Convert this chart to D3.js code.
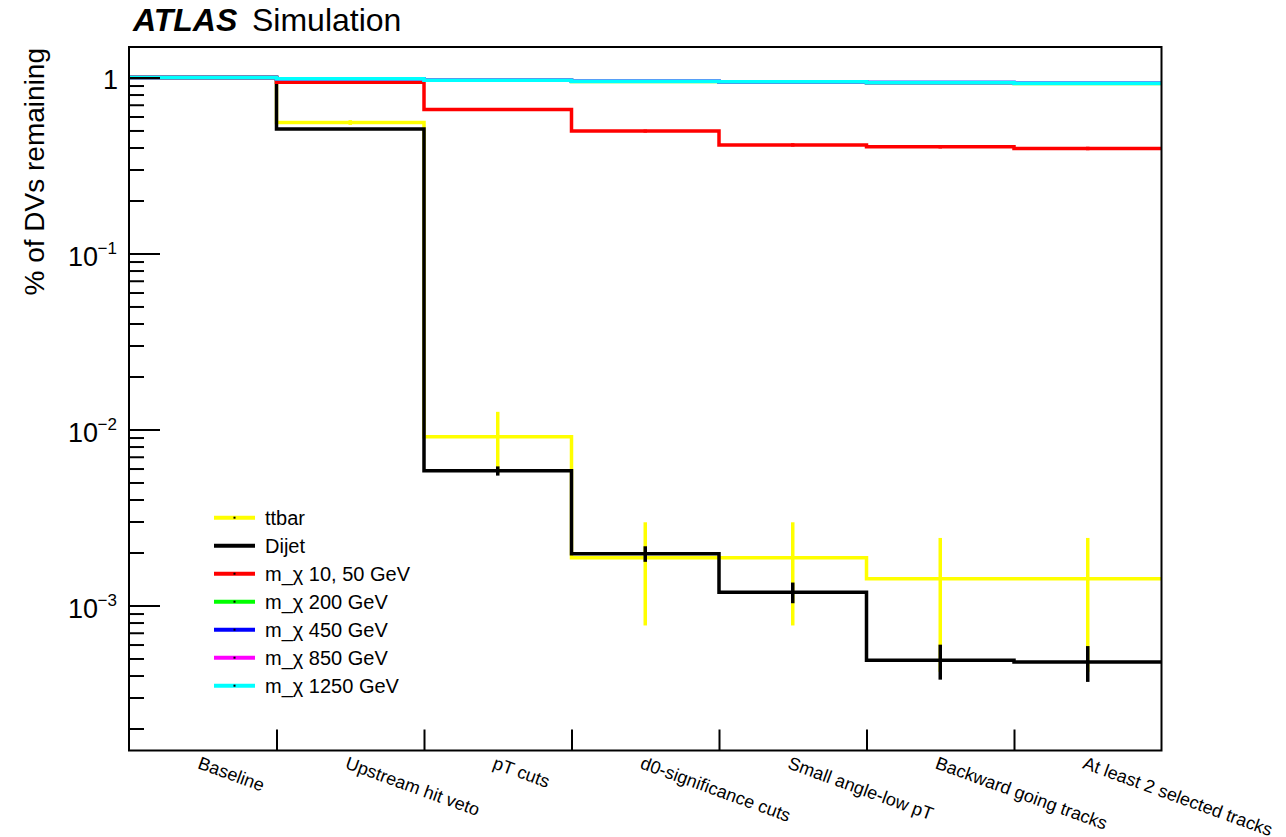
<!DOCTYPE html>
<html lang="en">
<head>
    <meta charset="UTF-8">
    <title>ATLAS Simulation - DV cutflow</title>
    <script src="https://d3js.org/d3.v7.min.js"></script>
    <style>
        body {
            margin: 0;
            background-color: #ffffff;
            font-family: 'Liberation Sans', Arial, Helvetica, sans-serif;
        }
        svg text {
            fill: #000;
        }
    </style>
</head>
<body>
    <div id="chart"></div>
    <script>
        // Cutflow steps (x categories)
        const categories = [
            "Baseline", "Upstream hit veto", "pT cuts", "d0-significance cuts",
            "Small angle-low pT", "Backward going tracks", "At least 2 selected tracks"
        ];

        // Fraction of DVs remaining per step
        const ttbarValues  = [1, 0.555, 0.0091, 0.00187, 0.00187, 0.00142, 0.00142];
        const ttbarErrors  = [0.02, 0.017, 0.0035, 0.0011, 0.0011, 0.001, 0.001];
        const dijetValues  = [1, 0.51, 0.00582, 0.00197, 0.00119, 0.000489, 0.000478];
        const dijetErrors  = [0.002, 0.004, 0.00035, 0.0002, 0.00016, 0.00011, 0.00011];
        const mchi10Values = [1, 0.94, 0.658, 0.496, 0.414, 0.404, 0.395];
        const mchi10Errors = [0.006, 0.01, 0.012, 0.01, 0.009, 0.009, 0.009];
        const mchi200Values  = [1, 0.985, 0.964, 0.95, 0.943, 0.933, 0.924];
        const mchi450Values  = [1, 0.985, 0.965, 0.952, 0.946, 0.937, 0.928];
        const mchi850Values  = [1, 0.985, 0.965, 0.952, 0.946, 0.937, 0.928];
        const mchi1250Values = [1, 0.985, 0.965, 0.952, 0.946, 0.937, 0.928];
        const signalErrors   = [0.004, 0.006, 0.006, 0.006, 0.006, 0.006, 0.006];

        const seriesNames  = ["ttbar", "Dijet", "m_χ 10, 50 GeV", "m_χ 200 GeV", "m_χ 450 GeV", "m_χ 850 GeV", "m_χ 1250 GeV"];
        const seriesColors = ["#ffff00", "#000000", "#ff0000", "#00ff00", "#0000ff", "#ff00ff", "#00ffff"];

        // Log axis ticks
        const yMajorTicks = [1e-3, 1e-2, 1e-1, 1];
        const yTickLabels = [["10", "\u22123"], ["10", "\u22122"], ["10", "\u22121"], ["1", ""]];

        const series = [
            { name: seriesNames[0], color: seriesColors[0], values: ttbarValues, errors: ttbarErrors, marker: true },
            { name: seriesNames[1], color: seriesColors[1], values: dijetValues, errors: dijetErrors, marker: false },
            { name: seriesNames[2], color: seriesColors[2], values: mchi10Values, errors: mchi10Errors, marker: true },
            { name: seriesNames[3], color: seriesColors[3], values: mchi200Values, errors: signalErrors, marker: true },
            { name: seriesNames[4], color: seriesColors[4], values: mchi450Values, errors: signalErrors, marker: true },
            { name: seriesNames[5], color: seriesColors[5], values: mchi850Values, errors: signalErrors, marker: true },
            { name: seriesNames[6], color: seriesColors[6], values: mchi1250Values, errors: signalErrors, marker: true }
        ];

        const W = 1286, H = 837;
        const frame = { left: 129, right: 1161.5, top: 47, bottom: 750.5 };

        const svg = d3.select("#chart").append("svg")
            .attr("width", W)
            .attr("height", H);

        const nBins = categories.length;
        const xScale = d3.scaleLinear().domain([0, nBins]).range([frame.left, frame.right]);
        const xBand = d3.scaleBand().domain(categories).range([frame.left, frame.right]);
        const yScale = d3.scaleLog().domain([1.5e-4, 1.49]).range([frame.bottom, frame.top]);

        // Histograms (step lines)
        const step = d3.line()
            .x(d => xScale(d[0]))
            .y(d => yScale(d[1]))
            .curve(d3.curveStepAfter);

        const plot = svg.append("g");
        series.forEach(s => {
            const pts = s.values.map((v, i) => [i, v]);
            pts.push([nBins, s.values[nBins - 1]]);
            plot.append("path")
                .attr("d", step(pts))
                .attr("fill", "none")
                .attr("stroke", s.color)
                .attr("stroke-width", 3.5);

            plot.selectAll(null)
                .data(s.values.map((v, i) => ({ v, e: s.errors[i], c: categories[i] })))
                .join("line")
                .attr("x1", d => xBand(d.c) + xBand.bandwidth() / 2)
                .attr("x2", d => xBand(d.c) + xBand.bandwidth() / 2)
                .attr("y1", d => yScale(Math.max(d.v - d.e, 1e-6)))
                .attr("y2", d => yScale(d.v + d.e))
                .attr("stroke", s.color)
                .attr("stroke-width", 3.5);
        });

        // Frame
        svg.append("rect")
            .attr("x", frame.left)
            .attr("y", frame.top)
            .attr("width", frame.right - frame.left)
            .attr("height", frame.bottom - frame.top)
            .attr("fill", "none")
            .attr("stroke", "#000")
            .attr("stroke-width", 2);

        // X axis: ticks at bin edges pointing up
        const xAxis = d3.axisBottom(xScale)
            .tickValues(d3.range(1, nBins))
            .tickSize(-21)
            .tickFormat("");
        const gx = svg.append("g")
            .attr("transform", `translate(0,${frame.bottom})`)
            .call(xAxis);
        gx.select(".domain").remove();
        gx.selectAll(".tick line").attr("stroke", "#000").attr("stroke-width", 2);

        // Rotated category labels
        svg.append("g").selectAll("text")
            .data(categories)
            .join("text")
            .attr("transform", d => `translate(${xBand(d) + xBand.bandwidth() / 2 - 6},768) rotate(20)`)
            .attr("font-size", 18)
            .text(d => d);

        // Y axis: minor ticks
        const minorTicks = [];
        [1e-4, 1e-3, 1e-2, 1e-1].forEach(dec => {
            for (let k = 2; k <= 9; k++) {
                const v = k * dec;
                if (v >= 1.5e-4 && v <= 1.49) minorTicks.push(v);
            }
        });
        const gyMinor = svg.append("g")
            .attr("transform", `translate(${frame.left},0)`)
            .call(d3.axisLeft(yScale).tickValues(minorTicks).tickSize(-15).tickFormat(""));
        gyMinor.select(".domain").remove();
        gyMinor.selectAll(".tick line").attr("stroke", "#000").attr("stroke-width", 2);

        const gyMajor = svg.append("g")
            .attr("transform", `translate(${frame.left},0)`)
            .call(d3.axisLeft(yScale).tickValues(yMajorTicks).tickSize(-31).tickFormat(""));
        gyMajor.select(".domain").remove();
        gyMajor.selectAll(".tick line").attr("stroke", "#000").attr("stroke-width", 2);

        // Y tick labels with superscripts
        yMajorTicks.forEach((t, i) => {
            const [base, exp] = yTickLabels[i];
            const y = yScale(t);
            if (exp) {
                svg.append("text")
                    .attr("x", 98).attr("y", y + 13)
                    .attr("text-anchor", "end")
                    .attr("font-size", 27)
                    .text(base);
                svg.append("text")
                    .attr("x", 117).attr("y", y + 1)
                    .attr("text-anchor", "end")
                    .attr("font-size", 17)
                    .text(exp);
            } else {
                svg.append("text")
                    .attr("x", 118).attr("y", y + 12)
                    .attr("text-anchor", "end")
                    .attr("font-size", 27)
                    .text(base);
            }
        });

        // Y axis title
        svg.append("text")
            .attr("transform", "translate(44,48) rotate(-90)")
            .attr("text-anchor", "end")
            .attr("font-size", 28)
            .text("% of DVs remaining");

        // ATLAS label
        const title = svg.append("text")
            .attr("x", 133).attr("y", 31)
            .attr("font-size", 32);
        title.append("tspan")
            .attr("font-weight", "bold")
            .attr("font-style", "italic")
            .text("ATLAS");
        title.append("tspan")
            .attr("x", 252)
            .text("Simulation");

        // Legend
        const legend = svg.append("g");
        series.forEach((s, i) => {
            const y = 517.7 + 28 * i;
            legend.append("line")
                .attr("x1", 214).attr("x2", 255)
                .attr("y1", y).attr("y2", y)
                .attr("stroke", s.color)
                .attr("stroke-width", 4);
            if (s.marker) {
                legend.append("rect")
                    .attr("x", 233.5).attr("y", y - 1)
                    .attr("width", 2).attr("height", 2)
                    .attr("fill", "#000");
            }
            legend.append("text")
                .attr("x", 265).attr("y", y + 7)
                .attr("font-size", 20)
                .text(s.name);
        });
    </script>
</body>
</html>
